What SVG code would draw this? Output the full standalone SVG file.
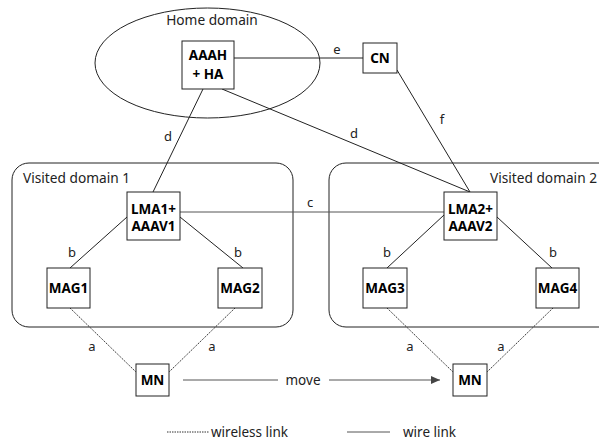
<svg xmlns="http://www.w3.org/2000/svg" width="599" height="444" viewBox="0 0 599 444">
<style>
text{font-family:"Noto Sans","Open Sans","Liberation Sans",sans-serif;fill:#222}
.lbl{font-size:13px;text-anchor:middle}
.dom{font-size:13.7px}
.nt{font-size:13.5px;font-weight:bold;text-anchor:middle;fill:#000}
.box{fill:#fff;stroke:#222;stroke-width:1}
.wire{stroke:#222;stroke-width:1;fill:none}
.gray{stroke:#555;stroke-width:1;fill:none}
.wl{stroke:#333;stroke-width:1;stroke-dasharray:1.5,1;fill:none}
</style>
<defs>
<marker id="ah" markerWidth="10" markerHeight="8" refX="9" refY="4" orient="auto" markerUnits="userSpaceOnUse">
<path d="M0,0 L9,4 L0,8 Z" fill="#444"/>
</marker>
</defs>
<g id="domains">
<ellipse cx="207.5" cy="63" rx="112.5" ry="55" fill="none" stroke="#222"/>
<text class="dom" x="212" y="25" text-anchor="middle">Home domain</text>
<rect x="12" y="163" width="281" height="164" rx="17" fill="none" stroke="#222"/>
<text class="dom" x="23" y="183">Visited domain 1</text>
<rect x="329" y="163" width="290" height="164" rx="17" fill="none" stroke="#222"/>
<text class="dom" x="597" y="183" text-anchor="end">Visited domain 2</text>
</g>
<g id="connectors">
<line class="wire" x1="234" y1="58" x2="363" y2="58"/>
<text class="lbl" x="337" y="54">e</text>
<line class="wire" x1="203" y1="89" x2="153" y2="192"/>
<text class="lbl" x="168" y="141">d</text>
<line class="wire" x1="222" y1="89" x2="470" y2="192"/>
<text class="lbl" x="354" y="138">d</text>
<line class="wire" x1="397" y1="70" x2="470" y2="192"/>
<text class="lbl" x="442" y="124">f</text>
<line class="gray" x1="180" y1="212" x2="444" y2="212"/>
<text class="lbl" x="310" y="207">c</text>
<line class="wire" x1="127" y1="217" x2="70" y2="268"/>
<text class="lbl" x="72" y="257">b</text>
<line class="wire" x1="180" y1="217" x2="243" y2="268"/>
<text class="lbl" x="238" y="257">b</text>
<line class="wire" x1="444" y1="215" x2="387" y2="268"/>
<text class="lbl" x="387" y="257">b</text>
<line class="wire" x1="497" y1="217" x2="552" y2="268"/>
<text class="lbl" x="553" y="257">b</text>
<line class="wl" x1="70" y1="308" x2="136" y2="372"/>
<text class="lbl" x="92" y="351">a</text>
<line class="wl" x1="235" y1="308" x2="169" y2="372"/>
<text class="lbl" x="212" y="351">a</text>
<line class="wl" x1="387" y1="308" x2="453" y2="372"/>
<text class="lbl" x="410" y="351">a</text>
<line class="wl" x1="553" y1="308" x2="487" y2="372"/>
<text class="lbl" x="501" y="351">a</text>
<line class="gray" x1="183" y1="380" x2="278" y2="380"/>
<text x="303" y="385" font-size="13.5" text-anchor="middle">move</text>
<line class="gray" x1="329" y1="380" x2="440" y2="380" marker-end="url(#ah)"/>
</g>
<g id="AAAH">
<rect class="box" x="182" y="41" width="52" height="48"/>
<text class="nt" x="208" y="60">AAAH</text>
<text class="nt" x="208" y="79">+ HA</text>
</g>
<g id="CN">
<rect class="box" x="363" y="43" width="34" height="30"/>
<text class="nt" x="380" y="63">CN</text>
</g>
<g id="LMA1">
<rect class="box" x="127" y="192" width="53" height="48"/>
<text class="nt" x="153.5" y="214">LMA1+</text>
<text class="nt" x="153.5" y="231">AAAV1</text>
</g>
<g id="LMA2">
<rect class="box" x="444" y="192" width="53" height="48"/>
<text class="nt" x="470.5" y="214">LMA2+</text>
<text class="nt" x="470.5" y="231">AAAV2</text>
</g>
<g id="MAG1">
<rect class="box" x="47" y="268" width="43" height="40"/>
<text class="nt" x="68.5" y="293">MAG1</text>
</g>
<g id="MAG2">
<rect class="box" x="218" y="268" width="44" height="40"/>
<text class="nt" x="240" y="293">MAG2</text>
</g>
<g id="MAG3">
<rect class="box" x="363" y="268" width="44" height="40"/>
<text class="nt" x="385" y="293">MAG3</text>
</g>
<g id="MAG4">
<rect class="box" x="536" y="268" width="43" height="40"/>
<text class="nt" x="557.5" y="293">MAG4</text>
</g>
<g id="MN1">
<rect class="box" x="136" y="364" width="33" height="32"/>
<text class="nt" x="152.5" y="385">MN</text>
</g>
<g id="MN2">
<rect class="box" x="453" y="364" width="34" height="32"/>
<text class="nt" x="470" y="385">MN</text>
</g>
<g id="legend">
<line class="wl" x1="167" y1="432" x2="209" y2="432"/>
<text x="211" y="437" font-size="13.5">wireless link</text>
<line class="gray" x1="347" y1="432" x2="390" y2="432"/>
<text x="403" y="437" font-size="13.5">wire link</text>
</g>
</svg>
